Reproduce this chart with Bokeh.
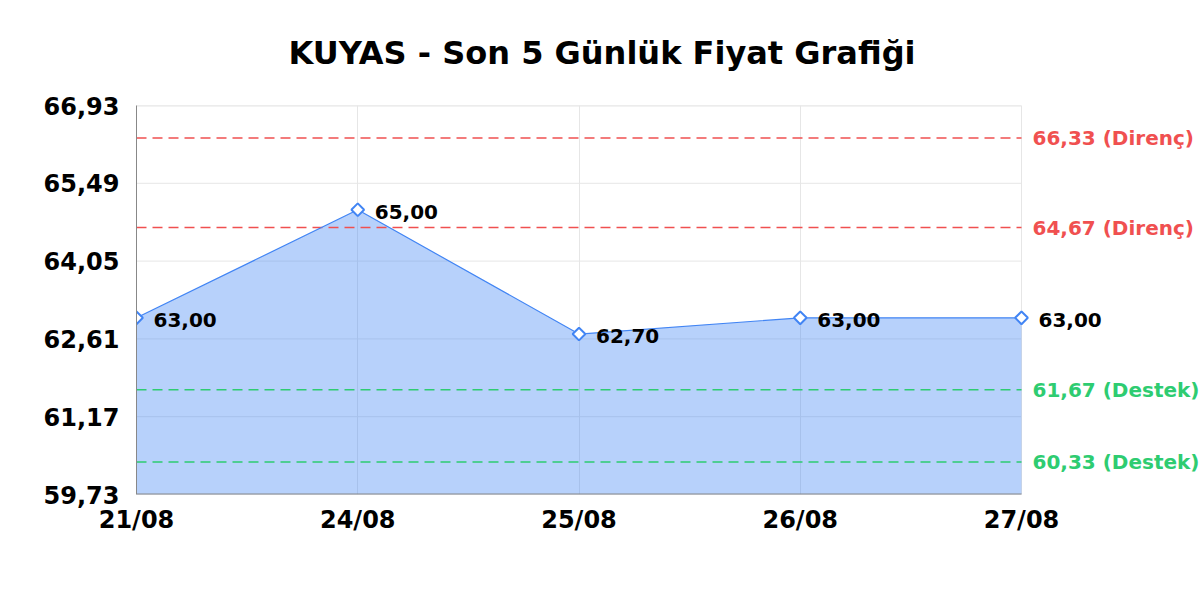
import math

from bokeh.core.properties import value
from bokeh.embed import file_html
from bokeh.models import (ColumnDataSource, CustomJSTickFormatter, FixedTicker, Label, LabelSet,
                          Range1d)
from bokeh.plotting import figure
from bokeh.resources import INLINE

# data
dates = ["21/08", "24/08", "25/08", "26/08", "27/08"]
prices = [63.00, 65.00, 62.70, 63.00, 63.00]
resistance = [66.33, 64.67]
support = [61.67, 60.33]
y_ticks = [59.73, 61.17, 62.61, 64.05, 65.49, 66.93]

FONT = "DejaVu Sans"
BLUE = "#4285f4"
RED = "#f05050"
GREEN = "#2ecc71"
GRID = "#e6e6e6"

W, H = 1200, 600
FRAME_L, FRAME_R, FRAME_T, FRAME_B = 136, 1021, 105, 494

xs = list(range(len(dates)))
y_min, y_max = y_ticks[0], y_ticks[-1]
# the frame runs to the right edge so the level labels are not clipped
x_end = xs[-1] * (W - FRAME_L) / (FRAME_R - FRAME_L)

p = figure(width=W, height=H, output_backend="svg", toolbar_location=None,
           x_range=Range1d(xs[0], x_end), y_range=Range1d(y_min, y_max),
           min_border_left=FRAME_L, min_border_right=0, min_border_top=FRAME_T,
           min_border_bottom=H - FRAME_B)

p.title.text = "KUYAS - Son 5 Günlük Fiyat Grafiği"
# left aligned + offset so it sits centred on the page, not on the wider frame
p.title.align = "left"
p.title.offset = 152
p.title.vertical_align = "top"
p.title.text_font = FONT
p.title.text_font_size = "32px"
p.title.text_color = "#000000"
p.title.standoff = 64
p.outline_line_color = None

# axes
p.xaxis.ticker = FixedTicker(ticks=xs)
p.xaxis.major_label_overrides = {i: d for i, d in enumerate(dates)}
p.yaxis.ticker = FixedTicker(ticks=y_ticks)
p.yaxis.formatter = CustomJSTickFormatter(code="return tick.toFixed(2).replace('.', ',');")
for ax in (p.xaxis, p.yaxis):
    ax.major_tick_line_color = None
    ax.minor_tick_line_color = None
    ax.major_label_text_font = FONT
    ax.major_label_text_font_style = "bold"
    ax.major_label_text_font_size = "24px"
    ax.major_label_text_color = "#000000"
p.xaxis.axis_line_color = None
p.yaxis.axis_line_color = "#888888"
p.xaxis.major_label_standoff = 5
p.yaxis.major_label_standoff = 11
p.xgrid.grid_line_color = GRID
p.ygrid.grid_line_color = None

# horizontal grid, only across the dates
p.segment(x0=xs[0], x1=xs[-1], y0=y_ticks, y1=y_ticks, line_color=GRID, line_width=1)
p.segment(x0=xs[0], x1=xs[-1], y0=y_max, y1=y_max, line_color=GRID, line_width=2)

# price area + line
src = ColumnDataSource(dict(x=xs, y=prices, lbl=[f"{v:.2f}".replace(".", ",") for v in prices]))
p.varea(x="x", y1=y_min, y2="y", source=src, fill_color=BLUE, fill_alpha=0.38)
p.segment(x0=xs[0], x1=xs[-1], y0=y_min, y1=y_min, line_color="#888888", line_width=2)

# support / resistance levels
for levels, color, name in ((resistance, RED, "Direnç"), (support, GREEN, "Destek")):
    p.segment(x0=xs[0], x1=xs[-1], y0=levels, y1=levels, line_color=color, line_width=1.5,
              line_dash="10 6")
    for lv in levels:
        p.add_layout(Label(x=xs[-1], y=lv, x_offset=11, text=f"{lv:.2f} ({name})".replace(".", ","),
                           text_baseline="middle", text_font=FONT, text_font_style="bold",
                           text_font_size="20px", text_color=color))

p.line(x="x", y="y", source=src, line_color=BLUE, line_width=1.2)
p.scatter(x="x", y="y", source=src, marker="square", angle=math.pi / 4, size=9,
          fill_color="white", line_color=BLUE, line_width=2)
p.add_layout(LabelSet(x="x", y="y", text="lbl", source=src, x_offset=17, y_offset=-2,
                      text_baseline="middle", text_font=value(FONT), text_font_style="bold",
                      text_font_size="20px", text_color="#000000"))

open("out.html", "w").write(file_html(p, INLINE))
